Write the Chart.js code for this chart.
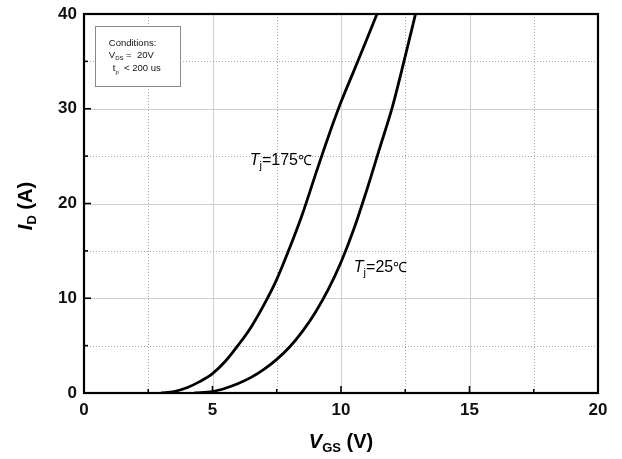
<!DOCTYPE html>
<html>
<head>
<meta charset="utf-8">
<script src="https://cdn.jsdelivr.net/npm/chart.js@4/dist/chart.umd.min.js"></script>
<style>
  html, body { margin: 0; padding: 0; background: #fff; }
  #wrap { width: 622px; height: 459px; }
</style>
</head>
<body>
<div id="wrap"><canvas id="c" width="622" height="459"></canvas></div>
<script>
// Transfer characteristics: drain current vs gate-source voltage
const vgs175 = [3.0, 3.5, 4.0, 4.5, 5.0, 5.5, 6.0, 6.5, 7.0, 7.5, 8.0, 8.5, 9.0, 9.5, 10.0, 10.5, 11.0, 11.4];
const id175  = [0, 0.15, 0.55, 1.2, 2.05, 3.35, 5.05, 6.95, 9.3, 12.0, 15.3, 18.9, 23.0, 27.0, 30.7, 34.0, 37.3, 40];

const vgs25 = [4.3, 5.0, 5.5, 6.0, 6.5, 7.0, 7.5, 8.0, 8.5, 9.0, 9.5, 10.0, 10.5, 11.0, 11.5, 12.0, 12.45, 12.9];
const id25  = [0, 0.15, 0.5, 1.0, 1.65, 2.5, 3.55, 4.85, 6.5, 8.5, 10.9, 13.8, 17.3, 21.4, 25.8, 30.2, 35.0, 40];

const xTicks = [0, 5, 10, 15, 20];
const yTicks = [0, 10, 20, 30, 40];
const xMinor = [2.5, 7.5, 12.5, 17.5];
const yMinor = [5, 15, 25, 35];

const FONT = '"Liberation Sans", Arial, sans-serif';

function pts(xs, ys) { return xs.map((x, i) => ({ x: x, y: ys[i] })); }

// grid, inward ticks and frame around the plot area
const framePlugin = {
  id: 'frame',
  beforeDatasetsDraw(chart) {
    const { ctx, chartArea: a, scales: { x, y } } = chart;
    ctx.save();
    // major grid (solid)
    ctx.strokeStyle = '#cfcfcf';
    ctx.lineWidth = 1;
    ctx.setLineDash([]);
    xTicks.forEach(v => { const px = Math.round(x.getPixelForValue(v)) + 0.5; ctx.beginPath(); ctx.moveTo(px, a.top); ctx.lineTo(px, a.bottom); ctx.stroke(); });
    yTicks.forEach(v => { const py = Math.round(y.getPixelForValue(v)) + 0.5; ctx.beginPath(); ctx.moveTo(a.left, py); ctx.lineTo(a.right, py); ctx.stroke(); });
    // minor grid (dotted)
    ctx.strokeStyle = '#a8a8a8';
    ctx.setLineDash([1, 2]);
    xMinor.forEach(v => { const px = Math.round(x.getPixelForValue(v)) + 0.5; ctx.beginPath(); ctx.moveTo(px, a.top); ctx.lineTo(px, a.bottom); ctx.stroke(); });
    yMinor.forEach(v => { const py = Math.round(y.getPixelForValue(v)) + 0.5; ctx.beginPath(); ctx.moveTo(a.left, py); ctx.lineTo(a.right, py); ctx.stroke(); });
    ctx.restore();
  },
  afterDatasetsDraw(chart) {
    const { ctx, chartArea: a, scales: { x, y } } = chart;
    ctx.save();
    ctx.setLineDash([]);
    ctx.strokeStyle = '#000';
    // inward ticks on left and bottom
    ctx.lineWidth = 1.6;
    const tk = (v, len, axis) => {
      ctx.beginPath();
      if (axis === 'x') { const px = x.getPixelForValue(v); ctx.moveTo(px, a.bottom); ctx.lineTo(px, a.bottom - len); }
      else { const py = y.getPixelForValue(v); ctx.moveTo(a.left, py); ctx.lineTo(a.left + len, py); }
      ctx.stroke();
    };
    xTicks.forEach(v => tk(v, 7, 'x'));
    xMinor.forEach(v => tk(v, 4, 'x'));
    yTicks.forEach(v => tk(v, 7, 'y'));
    yMinor.forEach(v => tk(v, 4, 'y'));
    // frame
    ctx.lineWidth = 2.2;
    ctx.strokeRect(a.left, a.top, a.right - a.left, a.bottom - a.top);
    ctx.restore();
  },
  afterDraw(chart) {
    const { ctx, chartArea: a, scales: { x, y } } = chart;
    ctx.save();
    ctx.fillStyle = '#000';
    ctx.textBaseline = 'alphabetic';

    // draws a run of [text, font, dy] pieces left to right
    function runs(parts, x0, y0) {
      let cx = x0;
      parts.forEach(p => {
        ctx.font = p[1];
        ctx.fillText(p[0], cx, y0 + (p[2] || 0));
        cx += ctx.measureText(p[0]).width;
      });
      return cx - x0;
    }
    function width(parts) {
      let w = 0;
      parts.forEach(p => { ctx.font = p[1]; w += ctx.measureText(p[0]).width; });
      return w;
    }

    // x axis title: V_GS (V)
    const xt = [['V', 'italic bold 20px ' + FONT], ['GS', 'bold 13px ' + FONT, 4], [' (V)', 'bold 20px ' + FONT]];
    const xc = (a.left + a.right) / 2;
    runs(xt, xc - width(xt) / 2, 448);

    // y axis title: I_D (A), rotated
    const yt = [['I', 'italic bold 20px ' + FONT], ['D', 'bold 13px ' + FONT, 4], [' (A)', 'bold 20px ' + FONT]];
    ctx.save();
    ctx.translate(32, 206);
    ctx.rotate(-Math.PI / 2);
    runs(yt, -width(yt) / 2, 0);
    ctx.restore();

    // curve labels
    const lab = (sub, val, px, py) => {
      runs([['T', 'italic 16px ' + FONT], [sub, '11px ' + FONT, 4], ['=' + val, '16px ' + FONT], ['\u2103', '14px ' + FONT]], px, py);
    };
    lab('j', '175', x.getPixelForValue(6.45), y.getPixelForValue(24.1));
    lab('j', '25', x.getPixelForValue(10.5), y.getPixelForValue(12.75));

    // test conditions box
    const bx = x.getPixelForValue(0.42), by = y.getPixelForValue(38.7);
    const bw = 85, bh = 60;
    ctx.strokeStyle = '#8a8a8a';
    ctx.lineWidth = 1;
    ctx.fillStyle = '#fff';
    ctx.fillRect(bx, by, bw, bh);
    ctx.strokeRect(Math.round(bx) + 0.5, Math.round(by) + 0.5, bw, bh);
    ctx.fillStyle = '#111';
    const f = '9.5px ' + FONT, fs = '6px ' + FONT;
    runs([['Conditions:', f]], bx + 14, by + 20);
    runs([['V', f], ['DS', fs, 2], [' =  20V', f]], bx + 14, by + 32);
    runs([['t', f], ['p', fs, 3], ['  < 200 us', f]], bx + 18, by + 45);
    ctx.restore();
  }
};

new Chart(document.getElementById('c'), {
  type: 'line',
  data: {
    datasets: [
      { label: 'Tj=175\u2103', data: pts(vgs175, id175), borderColor: '#000', borderWidth: 2.8, pointRadius: 0, cubicInterpolationMode: 'monotone', fill: false },
      { label: 'Tj=25\u2103', data: pts(vgs25, id25), borderColor: '#000', borderWidth: 2.8, pointRadius: 0, cubicInterpolationMode: 'monotone', fill: false }
    ]
  },
  options: {
    responsive: false,
    animation: false,
    devicePixelRatio: 1,
    layout: { padding: { top: 14, right: 24, left: 0, bottom: 0 } },
    plugins: { legend: { display: false }, tooltip: { enabled: false } },
    scales: {
      x: {
        type: 'linear', min: 0, max: 20,
        afterFit(s) { s.height = 66; },
        afterBuildTicks(s) { s.ticks = xTicks.map(v => ({ value: v })); },
        grid: { display: false, drawTicks: false },
        border: { display: false },
        ticks: { padding: 7, color: '#111', font: { family: FONT, size: 17, weight: 'bold' }, maxRotation: 0, autoSkip: false }
      },
      y: {
        type: 'linear', min: 0, max: 40,
        afterFit(s) { s.width = 84; },
        afterBuildTicks(s) { s.ticks = yTicks.map(v => ({ value: v })); },
        grid: { display: false, drawTicks: false },
        border: { display: false },
        ticks: { padding: 7, color: '#111', font: { family: FONT, size: 17, weight: 'bold', lineHeight: 0.8 }, autoSkip: false }
      }
    }
  },
  plugins: [framePlugin]
});
</script>
</body>
</html>
